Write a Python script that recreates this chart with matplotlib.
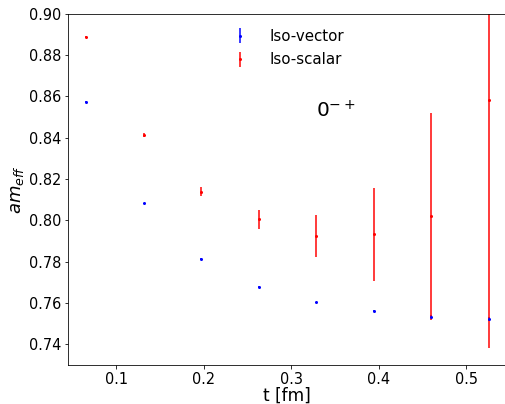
import matplotlib
matplotlib.use("Agg")
import matplotlib.pyplot as plt

t_fm = [0.0657, 0.1314, 0.1971, 0.2628, 0.3285, 0.3942, 0.4599, 0.5256]
iso_vector = [0.8573, 0.8082, 0.7815, 0.7676, 0.7603, 0.7561, 0.7534, 0.7522]
iso_vector_err = [0.0002, 0.0003, 0.0003, 0.0004, 0.0004, 0.0005, 0.0006, 0.0008]
iso_scalar = [0.8888, 0.8411, 0.8138, 0.8004, 0.7924, 0.7932, 0.8020, 0.8583]
iso_scalar_err = [0.0004, 0.0010, 0.0021, 0.0047, 0.0101, 0.0224, 0.0500, 0.1200]

DPI = 72
fig = plt.figure(figsize=(505 / DPI, 404 / DPI), dpi=DPI)
ax = fig.add_axes([68/505, 39/404, 438/505, 351.5/404])

ax.errorbar(t_fm, iso_vector, yerr=iso_vector_err, fmt='.', color='blue',
            markersize=4, elinewidth=1.5, label='Iso-vector')
ax.errorbar(t_fm, iso_scalar, yerr=iso_scalar_err, fmt='.', color='red',
            markersize=4, elinewidth=1.5, label='Iso-scalar')

ax.set_xlim(0.045, 0.5456)
ax.set_ylim(0.73, 0.90)
ax.set_yticks([0.74, 0.76, 0.78, 0.80, 0.82, 0.84, 0.86, 0.88, 0.90])
ax.set_xticks([0.1, 0.2, 0.3, 0.4, 0.5])
ax.tick_params(labelsize=14.5)
ax.set_xlabel('t [fm]', fontsize=17, labelpad=0)
ax.set_ylabel('$am_{eff}$', fontsize=18, labelpad=3)

ax.text(0.566, 0.705, '$0^{-+}$', transform=ax.transAxes, fontsize=20)

ax.legend(loc='upper center', frameon=False, fontsize=15, bbox_to_anchor=(0.494, 0.994),
          handletextpad=1.0, labelspacing=0.55)

fig.savefig('out.png', dpi=DPI)
